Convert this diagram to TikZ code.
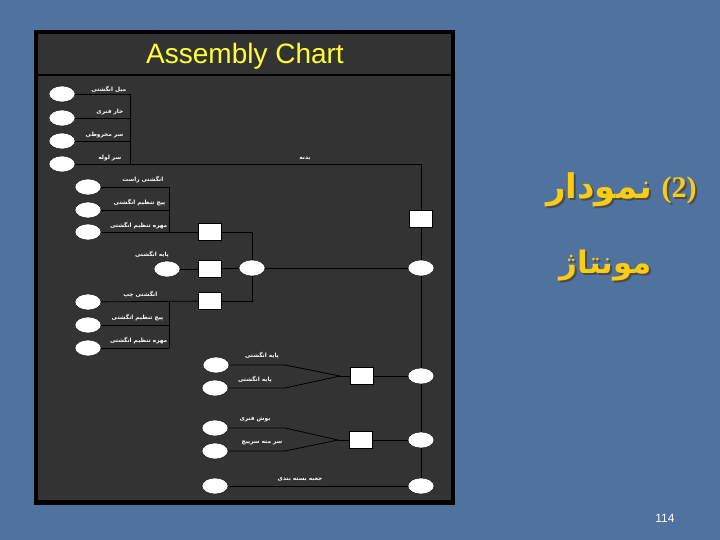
\documentclass[tikz,border=0pt]{standalone}
\usepackage{fontspec}
\setmainfont{Liberation Sans}
\newfontfamily\arabicfont[Script=Arabic]{DejaVu Sans}
\newfontfamily\digitfont{Liberation Serif}
\TeXXeTstate=1
\usetikzlibrary{shapes.geometric}

\definecolor{slideblue}{RGB}{80,114,158}
\definecolor{panelgray}{RGB}{51,51,51}
\definecolor{charttitle}{RGB}{255,255,51}
\definecolor{headgold}{RGB}{250,204,20}

\newcommand{\fa}[1]{{\arabicfont\beginR #1\endR}}

\tikzset{
  part/.style={draw=black, fill=white, ellipse, minimum width=26pt, minimum height=16pt, inner sep=0pt},
  joint/.style={draw=black, fill=white, rectangle, minimum width=23pt, minimum height=17pt, inner sep=0pt},
  lbl/.style={text=white, font=\arabicfont\fontsize{5.8}{6}\selectfont\bfseries, inner sep=0.5pt},
  wire/.style={draw=black, line width=0.8pt},
  heading/.style={text=headgold, inner sep=1pt},
  headshadow/.style={text=black!70, inner sep=1pt}
}

\begin{document}
\begin{tikzpicture}[x=1pt, y=-1pt]
    % Slide background
    \fill[slideblue] (0,0) rectangle (720,540);
    \useasboundingbox (0,0) rectangle (720,540);

    % Chart panel
    \fill[black] (34,30) rectangle (455,505);
    \fill[panelgray] (38,34) rectangle (451,500);
    \draw[black, line width=2pt] (38,75) -- (451,75);
    \node[text=charttitle, font=\fontsize{28}{30}\selectfont] (title) at (245,56) {Assembly Chart};

    % Body group
    \node[part] (mil)  at (62,94) {};
    \node[part] (khar) at (62,118) {};
    \node[part] (sar)  at (62,141) {};
    \node[part] (lule) at (62,164) {};
    \coordinate (bus1) at (130,94);
    \coordinate (corner1) at (421,164);
    \draw[wire] (mil) -- (mil -| bus1);
    \draw[wire] (khar) -- (khar -| bus1);
    \draw[wire] (sar) -- (sar -| bus1);
    \draw[wire] (mil -| bus1) -- (lule -| bus1);
    \node[lbl, anchor=south east] (tmil)  at (127,93) {\fa{میل انگشتی}};
    \node[lbl, anchor=south east] (tkhar) at (124,116) {\fa{خار فنری}};
    \node[lbl, anchor=south east] (tsar)  at (124,139) {\fa{سر مخروطی}};
    \node[lbl, anchor=south east] (tlule) at (122,162) {\fa{سر لوله}};
    \node[lbl] (tbadane) at (305,159) {\fa{بدنه}};

    % Right finger group
    \node[part] (rast)   at (88,187) {};
    \node[part] (pich1)  at (88,210) {};
    \node[part] (mohre1) at (88,232) {};
    \coordinate (bus2) at (169,187);
    \draw[wire] (rast) -- (rast -| bus2);
    \draw[wire] (pich1) -- (pich1 -| bus2);
    \draw[wire] (rast -| bus2) -- (mohre1 -| bus2);
    \node[lbl, anchor=south east] (trast)   at (164,184) {\fa{انگشتی راست}};
    \node[lbl, anchor=south east] (tpich1)  at (166,207) {\fa{پیچ تنظیم انگشتی}};
    \node[lbl, anchor=south east] (tmohre1) at (168,230) {\fa{مهره تنظیم انگشتی}};

    \node[joint] (j2) at (210,232) {};
    \node[part] (paye1) at (167,269) {};
    \node[joint] (j3) at (210,269) {};
    \node[part] (e1) at (252,268) {};
    \node[lbl] (tpaye1) at (152,255) {\fa{پایه انگشتی}};

    % Left finger group
    \node[part] (chap)   at (88,302) {};
    \node[part] (pich2)  at (88,325) {};
    \node[part] (mohre2) at (88,348) {};
    \coordinate (bus3) at (169,302);
    \draw[wire] (pich2) -- (pich2 -| bus3);
    \draw[wire] (mohre2) -- (mohre2 -| bus3);
    \draw[wire] (chap -| bus3) -- (mohre2 -| bus3);
    \node[lbl, anchor=south east] (tchap)   at (158,299) {\fa{انگشتی چپ}};
    \node[lbl, anchor=south east] (tpich2)  at (164,322) {\fa{پیچ تنظیم انگشتی}};
    \node[lbl, anchor=south east] (tmohre2) at (168,345) {\fa{مهره تنظیم انگشتی}};
    \node[joint] (j4) at (210,301) {};

    % Base pair
    \node[part] (p1) at (216,365) {};
    \node[part] (p2) at (215,388) {};
    \coordinate (m1) at (340,376);
    \node[joint] (j5) at (362,376) {};
    \node[lbl] (tp1) at (262,356) {\fa{پایه انگشتی}};
    \node[lbl] (tp2) at (255,380) {\fa{پایه انگشتی}};

    % Bush pair
    \node[part] (bush) at (215,428) {};
    \node[part] (mate) at (215,451) {};
    \coordinate (m2) at (338,440);
    \node[joint] (j6) at (361,440) {};
    \node[lbl] (tbush) at (255,419) {\fa{بوش فنری}};
    \node[lbl] (tmate) at (262,443) {\fa{سر مته سرپیچ}};

    % Packing
    \node[part] (jabe) at (215,486) {};
    \node[lbl] (tjabe) at (300,480) {\fa{جعبه بسته بندی}};

    % Main line
    \node[joint] (j1) at (421,219) {};
    \node[part] (e2) at (421,268) {};
    \node[part] (e3) at (421,376) {};
    \node[part] (e4) at (421,440) {};
    \node[part] (e5) at (421,486) {};

    % Connectors
    \draw[wire] (lule) -- (corner1) -- (j1);
    \draw[wire] (j1) -- (e2);
    \draw[wire] (e2) -- (e3);
    \draw[wire] (e3) -- (e4);
    \draw[wire] (e4) -- (e5);
    \draw[wire] (mohre1) -- (j2);
    \draw[wire] (j2) -| (e1);
    \draw[wire] (paye1) -- (j3);
    \draw[wire] (j3) -- (e1);
    \draw[wire] (e1) -- (e2);
    \draw[wire] (chap) -- (j4);
    \draw[wire] (j4) -| (e1);
    \draw[wire] (p1) -- (285,365) -- (m1);
    \draw[wire] (p2) -- (285,388) -- (m1);
    \draw[wire] (m1) -- (j5);
    \draw[wire] (j5) -- (e3);
    \draw[wire] (bush) -- (285,428) -- (m2);
    \draw[wire] (mate) -- (285,451) -- (m2);
    \draw[wire] (m2) -- (j6);
    \draw[wire] (j6) -- (e4);
    \draw[wire] (jabe) -- (e5);

    % Slide heading (shadow first)
    \node[headshadow, font=\arabicfont\fontsize{34}{38}\selectfont\bfseries] at (601,192) {\fa{نمودار}};
    \node[heading, font=\arabicfont\fontsize{34}{38}\selectfont\bfseries] (head1) at (599,190) {\fa{نمودار}};
    \node[headshadow, font=\digitfont\fontsize{30}{34}\selectfont\bfseries] at (681,192) {(2)};
    \node[heading, font=\digitfont\fontsize{30}{34}\selectfont\bfseries] (num) at (679,190) {(2)};
    \node[headshadow, font=\arabicfont\fontsize{31}{35}\selectfont\bfseries] at (608,268) {\fa{مونتاژ}};
    \node[heading, font=\arabicfont\fontsize{31}{35}\selectfont\bfseries] (head2) at (606,266) {\fa{مونتاژ}};

    % Page number
    \node[text=white, font=\fontsize{12}{14}\selectfont] (page) at (665,518) {114};
  \end{tikzpicture}
\end{document}
